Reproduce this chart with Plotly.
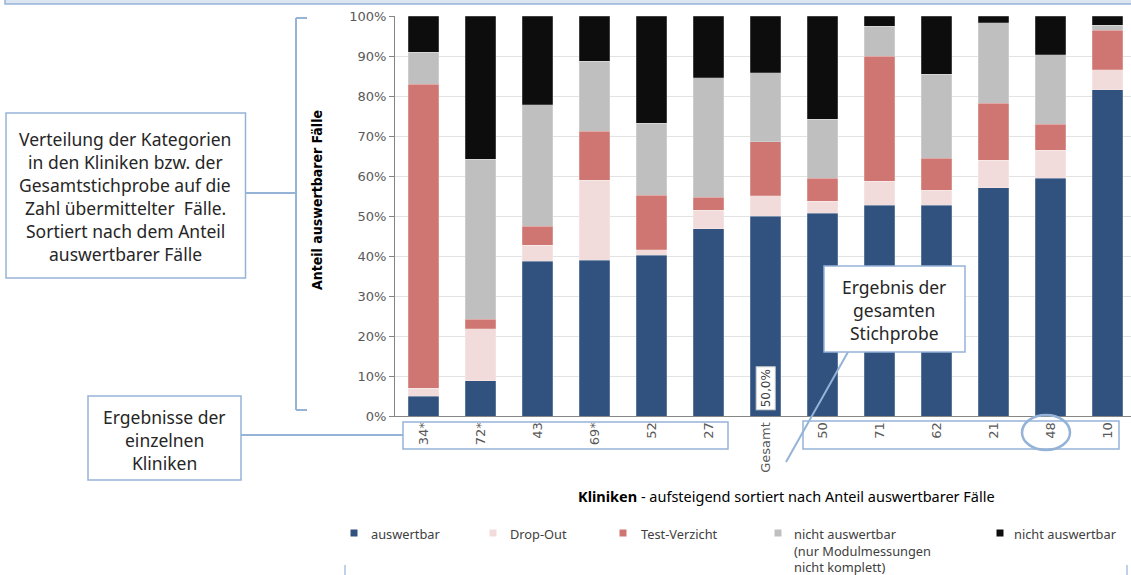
import plotly.graph_objects as go

# ---- data -------------------------------------------------------------
categories = ["34*", "72*", "43", "69*", "52", "27", "Gesamt",
              "50", "71", "62", "21", "48", "10"]

auswertbar       = [5.0, 8.8, 38.7, 38.9, 40.2, 46.8, 50.0, 50.7, 52.7, 52.7, 57.1, 59.4, 81.6]
drop_out         = [2.0, 13.0, 4.0, 20.0, 1.4, 4.6, 5.1, 3.0, 6.0, 3.8, 6.8, 7.0, 5.0]
test_verzicht    = [76.0, 2.4, 4.8, 12.3, 13.6, 3.3, 13.5, 5.8, 31.3, 7.9, 14.3, 6.6, 9.8]
nicht_ausw_modul = [8.0, 40.0, 30.3, 17.5, 18.0, 29.9, 17.2, 14.7, 7.5, 21.0, 20.1, 17.3, 1.3]
nicht_ausw       = [9.0, 35.8, 22.2, 11.3, 26.8, 15.4, 14.2, 25.8, 2.5, 14.6, 1.7, 9.7, 2.3]

series_names = ["auswertbar", "Drop-Out", "Test-Verzicht",
                "nicht auswertbar<br>(nur Modulmessungen<br>nicht komplett)",
                "nicht auswertbar"]
series_values = [auswertbar, drop_out, test_verzicht, nicht_ausw_modul, nicht_ausw]
series_colors = ["#31527E", "#F2DCDB", "#CF7672", "#BFBFBF", "#0D0D0D"]

y_ticks = [0, 10, 20, 30, 40, 50, 60, 70, 80, 90, 100]
y_tick_labels = [f"{v}%" for v in y_ticks]

# ---- layout geometry (pixels) -----------------------------------------
W, H = 1131, 575
L, R, T, B = 395, 1131, 16, 416
CAT_W = 57.0

def px(x):
    return (x - L) / (R - L)

def py(y):
    return (B - y) / (B - T)

FRAME = "#95B3D7"
TXT = "#262626"
BOX_FONT = "Noto Sans"
BOX_SIZE = 17.5

fig = go.Figure()
for name, vals, col in zip(series_names, series_values, series_colors):
    fig.add_trace(go.Bar(
        x=categories, y=vals, name=name,
        marker=dict(color=col, line=dict(width=0.6, color="rgba(255,255,255,0.35)")),
        width=0.53, showlegend=False,
    ))

shapes = []
annos = []

def line(x0, y0, x1, y1, w=2):
    shapes.append(dict(type="line", xref="paper", yref="paper",
                       x0=px(x0), y0=py(y0), x1=px(x1), y1=py(y1),
                       line=dict(color=FRAME, width=w)))

def rect(x0, y0, x1, y1, fill="white", w=1.5):
    shapes.append(dict(type="rect", xref="paper", yref="paper",
                       x0=px(x0), y0=py(y0), x1=px(x1), y1=py(y1),
                       line=dict(color=FRAME, width=w), fillcolor=fill, layer="above"))

def text(x, y, s, size=BOX_SIZE, anchor="center", color=TXT, family=BOX_FONT,
         angle=0, yanchor="middle", pad=1):
    annos.append(dict(xref="paper", yref="paper", x=px(x), y=py(y), text=s,
                      showarrow=False, xanchor=anchor, yanchor=yanchor,
                      textangle=angle, borderpad=pad,
                      align="left" if anchor == "left" else "center",
                      font=dict(family=family, size=size, color=color)))

# top frame
rect(5, -12, 1145, 4, fill="#DCE6F2", w=1.5)

# explanatory box on the left with bracket to the y axis
rect(6, 113, 245.5, 278)
left_lines = ["Verteilung der Kategorien", "in den Kliniken bzw. der",
              "Gesamtstichprobe auf die", "Zahl übermittelter  Fälle.",
              "Sortiert nach dem Anteil", "auswertbarer Fälle"]
for i, s in enumerate(left_lines):
    text(125, 138.5 + 23 * i, s)
line(245.5, 193, 296, 193)
line(296, 18, 296, 410)
line(296, 18, 307, 18)
line(296, 410, 307, 410)

# box for single clinics, connected to the label frame
rect(88, 396, 241, 480)
for i, s in enumerate(["Ergebnisse der", "einzelnen", "Kliniken"]):
    text(164.5, 417 + 22.8 * i, s)
line(241, 435, 403, 435)
rect(403, 422, 728, 449, fill="rgba(0,0,0,0)")
rect(803, 421, 1119, 449, fill="rgba(0,0,0,0)")
shapes.append(dict(type="circle", xref="paper", yref="paper",
                   x0=px(1022), x1=px(1070), y0=py(450), y1=py(415),
                   line=dict(color=FRAME, width=2.5)))

# box for the whole sample
line(848, 352, 786, 462)
rect(824, 266, 965, 352)
for i, s in enumerate(["Ergebnis der", "gesamten", "Stichprobe"]):
    text(894, 287 + 22.8 * i, s)

# value label on the total bar
gi = categories.index("Gesamt")
annos.append(dict(x=categories[gi], y=6.8, xref="x", yref="y",
                  text=f"{auswertbar[gi]:.1f}%".replace(".", ","),
                  showarrow=False, textangle=-90, bgcolor="white",
                  bordercolor="#D0D0D0", borderwidth=1, borderpad=2,
                  font=dict(family="DejaVu Sans", size=12, color="#404040")))

# y-axis title
text(317, 200, "<b>Anteil auswertbarer Fälle</b>", size=14, angle=-90,
     color="#000000", family="DejaVu Sans Condensed")

# x-axis title
text(786, 496, "<b>Kliniken</b> - aufsteigend sortiert nach Anteil auswertbarer Fälle",
     size=14.5, color="#000000", family=BOX_FONT)

# legend
leg_marker_x = [354, 493, 623, 778, 1000]
leg_text_x = [370, 509, 640, 793, 1013]
for name, col, mx, tx in zip(series_names, series_colors, leg_marker_x, leg_text_x):
    shapes.append(dict(type="rect", xref="paper", yref="paper",
                       x0=px(mx - 3.5), x1=px(mx + 3.5), y0=py(536.5), y1=py(529.5),
                       line=dict(width=0), fillcolor=col))
    text(tx, 524, name, size=12.8, anchor="left", color="#404040",
         yanchor="top", pad=0)

# small frame ticks at the bottom
line(345, 565, 345, 580, w=1.2)
line(1127, 565, 1127, 580, w=1.2)

fig.update_layout(
    width=W, height=H,
    margin=dict(l=L, r=W - R, t=T, b=H - B),
    barmode="stack",
    paper_bgcolor="white", plot_bgcolor="white",
    showlegend=False,
    shapes=shapes, annotations=annos,
    xaxis=dict(type="category", range=[-0.5, (R - L) / CAT_W - 0.5],
               tickangle=-90, showline=True, linecolor="#868686", linewidth=1,
               ticks="", showgrid=False,
               tickfont=dict(family="DejaVu Sans", size=13, color="#595959")),
    yaxis=dict(range=[0, 100], tickvals=y_ticks, ticktext=y_tick_labels,
               showline=True, linecolor="#868686", linewidth=1,
               ticks="outside", ticklen=5, tickcolor="#868686",
               gridcolor="#E3E3E3", gridwidth=1, zeroline=False,
               tickfont=dict(family="DejaVu Sans", size=13, color="#595959")),
)

fig.write_html("out.html")
